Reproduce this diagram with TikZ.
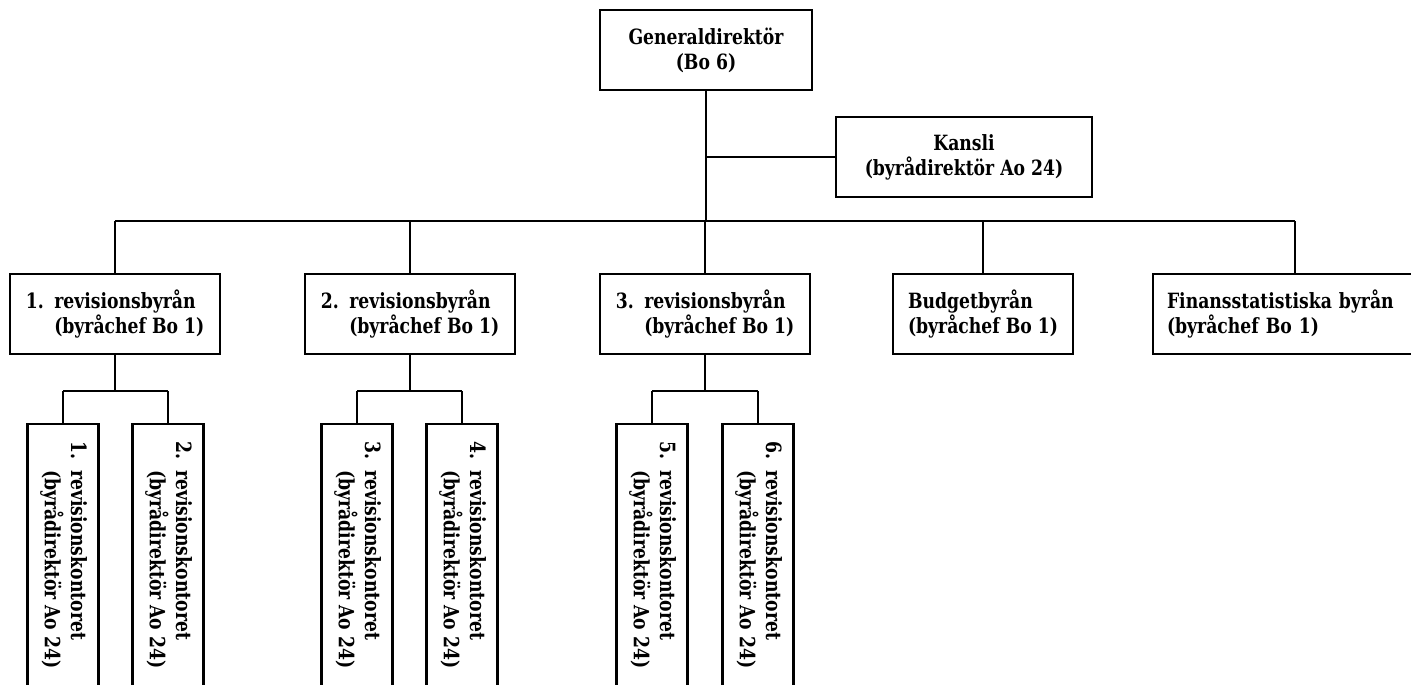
\documentclass[tikz,border=0pt]{standalone}
\usepackage{fontspec}
\setmainfont{DejaVu Serif}[FakeStretch=0.82]
\newcommand\orgfont{\bfseries\fontsize{21}{25}\selectfont}
\newcommand\numgap{\hspace{0.5em}}
\begin{document}
\begin{tikzpicture}[x=1pt,y=-1pt,
  line width=2.2pt,
  orgbox/.style={draw,rectangle,inner sep=0pt,font=\orgfont},
  topbox/.style={orgbox,minimum height=80pt,align=center},
  unitbox/.style={orgbox,minimum height=80pt,minimum width=210pt,align=left},
  officebox/.style={orgbox,minimum width=71pt,minimum height=262pt,anchor=north},
  link/.style={draw,line width=2.2pt}]

\clip (0,0) rectangle (1411,685);
\fill[white] (0,0) rectangle (1411,685);

% top level
\node[topbox,minimum width=212pt] (gd) at (706,50) {Generaldirektör\\(Bo 6)};
\node[topbox,minimum width=256pt] (kansli) at (964,157) {Kansli\\(byrådirektör Ao 24)};

% bureaus
\node[unitbox] (rb1) at (115,314) {1.\numgap revisionsbyrån\\\hphantom{1.\numgap}(byråchef Bo 1)};
\node[unitbox] (rb2) at (410,314) {2.\numgap revisionsbyrån\\\hphantom{2.\numgap}(byråchef Bo 1)};
\node[unitbox] (rb3) at (705,314) {3.\numgap revisionsbyrån\\\hphantom{3.\numgap}(byråchef Bo 1)};
\node[unitbox,minimum width=180pt] (budget) at (983,314) {Budgetbyrån\\(byråchef Bo 1)};
\node[unitbox,minimum width=284pt,text width=256pt] (finans) at (1295,314) {Finansstatistiska byrån\\(byråchef Bo 1)};

% revision offices, open towards the lower edge
\foreach \n/\x in {1/63,2/168,3/357,4/462,5/652,6/758}{
  \node[officebox] (rk\n) at (\x,423)
    {\rotatebox{-90}{\begin{tabular}{@{}l@{}}\n.\numgap revisionskontoret\\
      \hphantom{\n.\numgap}(byrådirektör Ao 24)\end{tabular}}};
}

% main trunk and bus
\coordinate (kj) at (gd.south |- kansli.west);
\coordinate (busL) at (rb1.north |- 0,221);
\coordinate (busR) at (finans.north |- 0,221);
\coordinate (busM) at (gd.south |- 0,221);
\path[link] (gd.south) -- (busM);
\path[link] (kj) -- (kansli.west);
\path[link] (busL) -- (busR);
\foreach \b in {rb1,rb2,rb3,budget,finans}{
  \path[link] (\b.north |- busL) -- (\b.north);
}

% sub-buses under the revision bureaus
\foreach \b/\l/\r in {rb1/rk1/rk2,rb2/rk3/rk4,rb3/rk5/rk6}{
  \coordinate (\b-bus) at (\b.south |- 0,391);
  \path[link] (\b.south) -- (\b-bus);
  \path[link] (\l.north |- \b-bus) -- (\r.north |- \b-bus);
  \path[link] (\l.north |- \b-bus) -- (\l.north);
  \path[link] (\r.north |- \b-bus) -- (\r.north);
}
\end{tikzpicture}
\end{document}
